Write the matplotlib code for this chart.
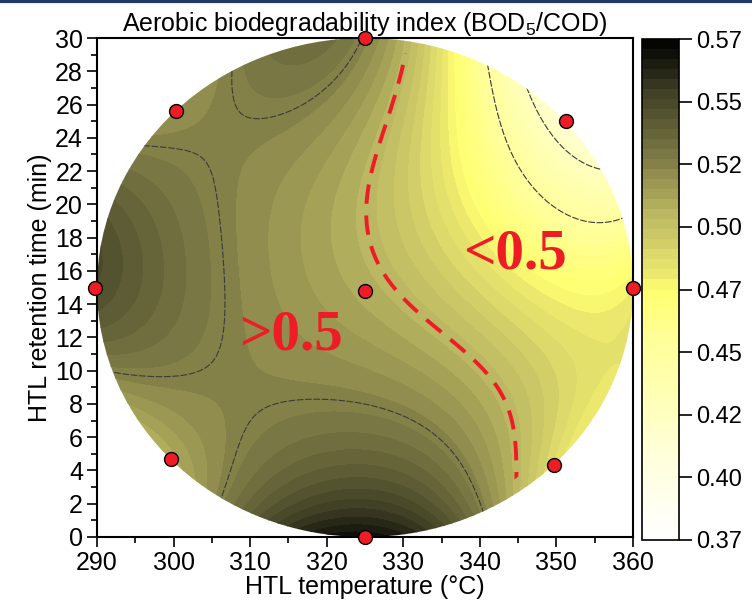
import numpy as np
import matplotlib
matplotlib.use("Agg")
import matplotlib.pyplot as plt
from matplotlib.colors import LinearSegmentedColormap
from matplotlib.patches import Ellipse
from matplotlib.lines import Line2D

plt.rcParams['font.family'] = ['Liberation Sans', 'DejaVu Sans']
plt.rcParams['mathtext.default'] = 'regular'

# response surface in coded units: x = (T - 325) / 35, y = (t - 15) / 15
# terms are x**i * y**j
term_powers = [(0, 0),
               (1, 0), (0, 1),
               (2, 0), (1, 1), (0, 2),
               (3, 0), (2, 1), (1, 2), (0, 3),
               (4, 0), (3, 1), (2, 2), (1, 3), (0, 4),
               (5, 0), (4, 1), (3, 2), (2, 3), (1, 4), (0, 5)]
term_coefs = [0.5039,
              -0.0335, -0.0229,
              -0.0226, -0.0593, 0.0298,
              -0.0266, -0.0370, -0.0083, 0.0188,
              0.0261, 0.0156, -0.1541, 0.0211, 0.0082,
              0.0259, 0.0419, 0.0045, 0.0189, -0.0080, -0.0188]

# experimental design points
temp_pts = [325, 300.3, 351.3, 289.8, 325, 360, 299.6, 349.7, 325]
time_pts = [30, 25.6, 25.0, 15, 14.8, 15, 4.7, 4.3, 0]

line_levels = [0.42, 0.445, 0.52]
cbar_ticks = [0.37, 0.395, 0.42, 0.445, 0.47, 0.495, 0.52, 0.545, 0.57]
cbar_labels = ['0.37', '0.40', '0.42', '0.45', '0.47', '0.50', '0.52', '0.55', '0.57']

cmap = LinearSegmentedColormap.from_list('olive', [
    (0.0, '#ffffff'), (0.15, '#ffffe0'), (0.25, '#ffffc0'), (0.4, '#ffff98'),
    (0.5, '#ffff70'), (0.53, '#ece86e'), (0.65, '#bcb862'), (0.75, '#848249'),
    (0.9, '#3c3c24'), (1.0, '#000000')])


def model(T, t):
    x = (T - 325) / 35
    y = (t - 15) / 15
    z = np.zeros_like(x)
    for (i, j), c in zip(term_powers, term_coefs):
        z += c * x ** i * y ** j
    return z


TT, tt = np.meshgrid(np.linspace(288, 362, 300), np.linspace(-1, 31, 300))
Z = model(TT, tt)

fig = plt.figure(figsize=(7.52, 6.01), dpi=100)
ax = fig.add_axes([97 / 752, 64 / 601, 536 / 752, 499 / 601])

circ = Ellipse((325, 15), 70, 30, transform=ax.transData, facecolor='none', edgecolor='none')
ax.add_patch(circ)
inner = Ellipse((325, 15), 66.5, 28.5, transform=ax.transData, facecolor='none', edgecolor='none')
ax.add_patch(inner)

levels = np.linspace(0.37, 0.57, 51)
cs = ax.contourf(TT, tt, np.clip(Z, 0.3701, 0.5699), levels=levels, cmap=cmap)
cs.set_clip_path(circ)
thin = ax.contour(TT, tt, Z, levels=line_levels, colors='#3a3a3a',
                  linewidths=0.8, linestyles=[(0, (6, 1.5))])
thin.set_clip_path(circ)
red = ax.contour(TT, tt, Z, levels=[0.5], colors='#ee1c24', linewidths=2.8,
                 linestyles=[(0, (5, 3))])
red.set_clip_path(inner)

ax.plot(temp_pts, time_pts, 'o', color='#ee1c24', markeredgecolor='black',
        markersize=10, markeredgewidth=1, clip_on=False, zorder=5)

ax.text(315.3, 12.1, '>0.5', color='#ee1c24', fontsize=41, fontweight='bold',
        family='Liberation Serif', ha='center', va='center')
ax.text(344.6, 17.0, '<0.5', color='#ee1c24', fontsize=41, fontweight='bold',
        family='Liberation Serif', ha='center', va='center')

ax.set_xlim(290, 360)
ax.set_ylim(0, 30)
ax.set_xticks(np.arange(290, 361, 10))
ax.set_xticks(np.arange(295, 360, 10), minor=True)
ax.set_yticks(np.arange(0, 31, 2))
ax.set_yticks(np.arange(1, 30, 2), minor=True)
ax.tick_params(which='major', length=7, width=1.2, labelsize=18, direction='out', pad=3)
ax.tick_params(which='minor', length=4, width=1.2, direction='out')
for s in ax.spines.values():
    s.set_linewidth(1.5)
ax.set_xlabel('HTL temperature (°C)', fontsize=18, labelpad=0)
ax.set_ylabel('HTL retention time (min)', fontsize=18, labelpad=2)
ax.set_title('Aerobic biodegradability index (BOD$_5$/COD)', fontsize=18, pad=3)

cax = fig.add_axes([642 / 752, 61 / 601, 37 / 752, 501 / 601])
cb = fig.colorbar(cs, cax=cax, ticks=cbar_ticks)
cb.ax.set_yticklabels(cbar_labels)
cb.ax.tick_params(length=9, width=1.2, labelsize=17)
cb.outline.set_linewidth(1.2)

fig.add_artist(Line2D([0, 1], [0.998, 0.998], color='#1f3864', lw=3, transform=fig.transFigure))

fig.savefig('out.png', dpi=100)
